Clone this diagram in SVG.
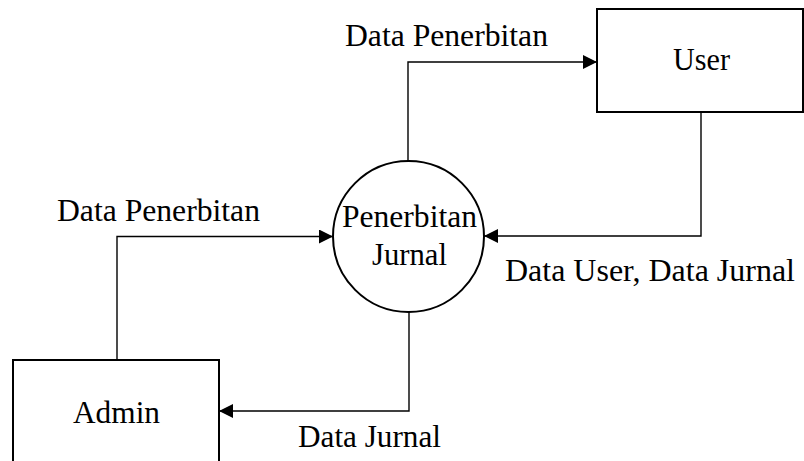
<svg xmlns="http://www.w3.org/2000/svg" width="804" height="461" viewBox="0 0 804 461" font-family="Liberation Serif, Times New Roman, serif" font-size="30.5">
<style>
.box{fill:#fff;stroke:#000;stroke-width:2}
.flow{fill:none;stroke:#000;stroke-width:1.4}
</style>
<defs>
<marker id="arr" markerUnits="userSpaceOnUse" markerWidth="14" markerHeight="14" viewBox="0 0 14 14" refX="14" refY="7" orient="auto">
<path d="M0,0 L14,7 L0,14 Z" fill="#000"/>
</marker>
</defs>
<rect width="804" height="461" fill="#fff"/>
<g id="connectors">
<path class="flow" d="M408,161 V62 H597" marker-end="url(#arr)"/>
<path class="flow" d="M117,360 V236.5 H333" marker-end="url(#arr)"/>
<path class="flow" d="M701,112 V236 H484" marker-end="url(#arr)"/>
<path class="flow" d="M409,312 V411 H219" marker-end="url(#arr)"/>
<text x="345" y="46" textLength="203" lengthAdjust="spacingAndGlyphs">Data Penerbitan</text>
<text x="57" y="221" textLength="203" lengthAdjust="spacingAndGlyphs">Data Penerbitan</text>
<text x="505" y="281" textLength="290" lengthAdjust="spacingAndGlyphs">Data User, Data Jurnal</text>
<text x="298" y="447" textLength="143" lengthAdjust="spacingAndGlyphs">Data Jurnal</text>
</g>
<g id="user">
<rect class="box" x="597" y="9" width="206" height="103"/>
<text x="673" y="70" textLength="57" lengthAdjust="spacingAndGlyphs">User</text>
</g>
<g id="process">
<circle class="box" cx="408.5" cy="236.5" r="75.5"/>
<text x="342" y="227" textLength="135" lengthAdjust="spacingAndGlyphs">Penerbitan</text>
<text x="372" y="265" textLength="75" lengthAdjust="spacingAndGlyphs">Jurnal</text>
</g>
<g id="admin">
<rect class="box" x="13" y="360" width="206" height="110"/>
<text x="73" y="423" textLength="87" lengthAdjust="spacingAndGlyphs">Admin</text>
</g>
</svg>
